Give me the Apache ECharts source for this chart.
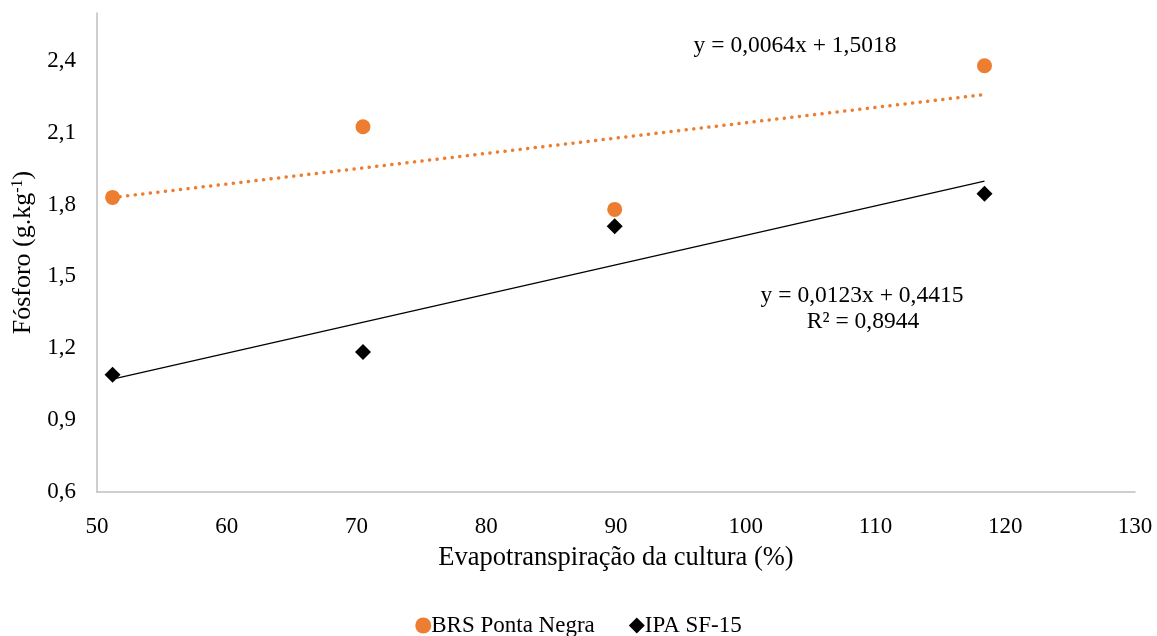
<!DOCTYPE html>
<html>
<head>
<meta charset="utf-8">
<script src="https://cdn.jsdelivr.net/npm/echarts@6/dist/echarts.min.js"></script>
<style>
  html, body { margin: 0; padding: 0; background: #fff; }
  #chart { width: 1157px; height: 636px; }
</style>
</head>
<body>
<div id="chart"></div>
<script>
// Crop evapotranspiration (%) levels
const etc = [51.2, 70.5, 89.9, 118.4];
// Phosphorus content (g/kg) per cultivar
const brsPontaNegra = [1.83, 2.125, 1.78, 2.38];
const ipaSf15 = [1.09, 1.185, 1.71, 1.845];
// Linear fits [slope, intercept]
const brsFit = [0.0064, 1.5018];
const ipaFit = [0.0123, 0.4415];
const seriesNames = ['BRS Ponta Negra', 'IPA SF-15'];
const eqBrs = 'y = 0,0064x + 1,5018';
const eqIpa = 'y = 0,0123x + 0,4415';
const r2Ipa = 'R² = 0,8944';

const FONT = 'Liberation Serif';
const ORANGE = '#ED7D31';

const pairs = (xs, ys) => xs.map((x, i) => [x, ys[i]]);
const fitLine = (fit) => {
  const x0 = Math.min(...etc), x1 = Math.max(...etc);
  return [[x0, fit[0] * x0 + fit[1]], [x1, fit[0] * x1 + fit[1]]];
};

const chart = echarts.init(document.getElementById('chart'), null, { renderer: 'canvas' });
chart.setOption({
  animation: false,
  backgroundColor: '#ffffff',
  textStyle: { fontFamily: FONT, color: '#000' },
  grid: { left: 97, right: 22, top: 13, bottom: 144, containLabel: false },
  xAxis: {
    type: 'value', min: 50, max: 130, interval: 10,
    name: 'Evapotranspiração da cultura (%)',
    nameLocation: 'middle', nameGap: 53,
    nameTextStyle: { fontFamily: FONT, fontSize: 26.5, color: '#000' },
    axisLine: { show: true, lineStyle: { color: '#bfbfbf', width: 1.5 } },
    axisTick: { show: false },
    splitLine: { show: false },
    axisLabel: { fontFamily: FONT, fontSize: 23, color: '#000', margin: 23 }
  },
  yAxis: {
    type: 'value', min: 0.6, max: 2.6, interval: 0.3,
    name: '{t|Fósforo (g.kg}{s|-1}{t|)}',
    nameLocation: 'middle', nameGap: 52, nameRotate: 90,
    nameTextStyle: {
      rich: {
        t: { fontFamily: FONT, fontSize: 26, color: '#000' },
        s: { fontFamily: FONT, fontSize: 16, color: '#000', verticalAlign: 'top', padding: [0, 0, 12, 0] }
      }
    },
    axisLine: { show: true, lineStyle: { color: '#bfbfbf', width: 1.5 } },
    axisTick: { show: false },
    splitLine: { show: false },
    axisLabel: {
      fontFamily: FONT, fontSize: 23, color: '#000', margin: 21,
      showMaxLabel: false,
      formatter: (v) => v.toFixed(1).replace('.', ',')
    }
  },
  legend: {
    top: 614, left: 'center', padding: 0,
    data: [
      { name: seriesNames[0], icon: 'circle' },
      { name: seriesNames[1], icon: 'diamond' }
    ],
    itemWidth: 16, itemHeight: 16, itemGap: 34,
    textStyle: { fontFamily: FONT, fontSize: 23, color: '#000', padding: [0, 0, 0, -5] }
  },
  series: [
    {
      name: seriesNames[0] + ' fit', type: 'line', data: fitLine(brsFit),
      symbol: 'none', silent: true, z: 1,
      lineStyle: { color: ORANGE, width: 3.5, type: [0.1, 7.5], cap: 'round', opacity: 1 }
    },
    {
      name: seriesNames[1] + ' fit', type: 'line', data: fitLine(ipaFit),
      symbol: 'none', silent: true, z: 1,
      lineStyle: { color: '#000', width: 1.2, type: 'solid', opacity: 1 }
    },
    {
      name: seriesNames[0], type: 'scatter', data: pairs(etc, brsPontaNegra),
      symbol: 'circle', symbolSize: 15, z: 3,
      itemStyle: { color: ORANGE, opacity: 1 }
    },
    {
      name: seriesNames[1], type: 'scatter', data: pairs(etc, ipaSf15),
      symbol: 'diamond', symbolSize: 16, z: 3,
      itemStyle: { color: '#000', opacity: 1 }
    }
  ],
  graphic: [
    { type: 'text', x: 795, y: 46,
      style: { text: eqBrs, font: '23.5px "' + FONT + '"', fill: '#000', align: 'center', verticalAlign: 'middle' } },
    { type: 'text', x: 862, y: 296,
      style: { text: eqIpa, font: '23.5px "' + FONT + '"', fill: '#000', align: 'center', verticalAlign: 'middle' } },
    { type: 'text', x: 863, y: 322,
      style: { text: r2Ipa, font: '23.5px "' + FONT + '"', fill: '#000', align: 'center', verticalAlign: 'middle' } }
  ]
});
</script>
</body>
</html>
